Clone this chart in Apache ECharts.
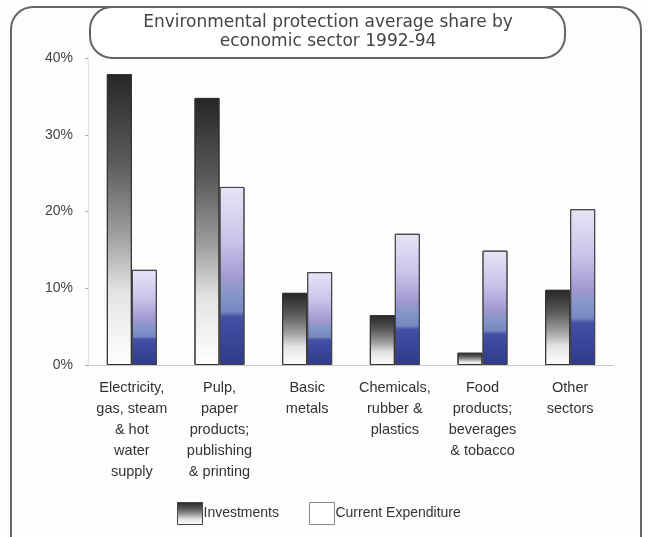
<!DOCTYPE html>
<html>
<head>
<meta charset="utf-8">
<script src="https://cdn.jsdelivr.net/npm/echarts@6/dist/echarts.min.js"></script>
<style>
html,body{margin:0;padding:0;background:#fff;}
#main{width:649px;height:537px;}
</style>
</head>
<body>
<div id="main"></div>
<script>
// sectors and shares (%)
var sectors = [
	"Electricity,\ngas, steam\n& hot\nwater\nsupply",
	"Pulp,\npaper\nproducts;\npublishing\n& printing",
	"Basic\nmetals",
	"Chemicals,\nrubber &\nplastics",
	"Food\nproducts;\nbeverages\n& tobacco",
	"Other\nsectors"
];
var investments = [37.9, 34.8, 9.4, 6.5, 1.6, 9.8];
var currentExp = [12.4, 23.2, 12.1, 17.1, 14.9, 20.3];
var yTicks = [0, 10, 20, 30, 40];

var myChart = echarts.init(document.getElementById('main'));

//灰色渐变 (Investments)
var invGrad = new echarts.graphic.LinearGradient(0, 0, 0, 1, [
	{offset: 0, color: '#262626'},
	{offset: 0.3, color: '#5a5a5a'},
	{offset: 0.55, color: '#9e9e9e'},
	{offset: 0.75, color: '#e4e4e4'},
	{offset: 1, color: '#ffffff'}
]);
//蓝紫渐变 (Current Expenditure)
var curGrad = new echarts.graphic.LinearGradient(0, 0, 0, 1, [
	{offset: 0, color: '#e8e4f5'},
	{offset: 0.3, color: '#cbc3ea'},
	{offset: 0.52, color: '#a198d0'},
	{offset: 0.6, color: '#8597c9'},
	{offset: 0.7, color: '#7588c2'},
	{offset: 0.73, color: '#4350a3'},
	{offset: 1, color: '#2f3a8c'}
]);

var options = {
	backgroundColor: '#fdfdfd',
	textStyle: {fontFamily: 'Liberation Sans', color: '#333'},
	graphic: [
		{
			type: 'rect',
			shape: {x: 11, y: 7, width: 630, height: 560, r: 22},
			style: {fill: 'none', stroke: '#666', lineWidth: 2},
			z: 0
		},
		{
			type: 'rect',
			shape: {x: 90, y: 7, width: 475, height: 51, r: 22},
			style: {fill: '#fff', stroke: '#666', lineWidth: 2},
			z: 1
		},
		{
			type: 'text',
			x: 328, y: 13,
			style: {
				text: 'Environmental protection average share by\neconomic sector 1992-94',
				font: '17px "DejaVu Sans"',
				fill: '#444',
				align: 'center',
				lineHeight: 19
			},
			z: 2
		}
	],
	grid: {left: 88, right: 35, top: 58, bottom: 172},
	legend: {
		left: 172, top: 497,
		icon: 'rect',
		itemWidth: 25, itemHeight: 22, itemGap: 30,
		textStyle: {fontSize: 14, color: '#333', padding: [0, 0, 0, -4]},
		data: [
			{name: 'Investments', itemStyle: {color: invGrad, borderColor: '#444', borderWidth: 1}},
			{name: 'Current Expenditure', itemStyle: {color: '#fff', borderColor: '#888', borderWidth: 1}}
		]
	},
	xAxis: {
		type: 'category',
		data: sectors,
		axisLine: {lineStyle: {color: '#bbb', type: 'dotted'}},
		axisTick: {show: false},
		axisLabel: {interval: 0, fontSize: 14.5, lineHeight: 21, color: '#333', margin: 12}
	},
	yAxis: {
		type: 'value',
		min: yTicks[0], max: yTicks[yTicks.length - 1], interval: 10,
		axisLine: {show: true, lineStyle: {color: '#ddd', type: 'dotted'}},
		axisTick: {show: true, length: 3, lineStyle: {color: '#aaa'}},
		splitLine: {show: false},
		axisLabel: {formatter: '{value}%', fontSize: 14, color: '#444', margin: 15}
	},
	series: [
		{
			name: 'Investments',
			type: 'bar',
			barWidth: 25,
			barGap: 0,
			data: investments,
			itemStyle: {color: invGrad, borderColor: '#333', borderWidth: 1}
		},
		{
			name: 'Current Expenditure',
			type: 'bar',
			barWidth: 25,
			data: currentExp,
			itemStyle: {color: curGrad, borderColor: '#444', borderWidth: 1}
		}
	]
};
myChart.setOption(options);
</script>
</body>
</html>
